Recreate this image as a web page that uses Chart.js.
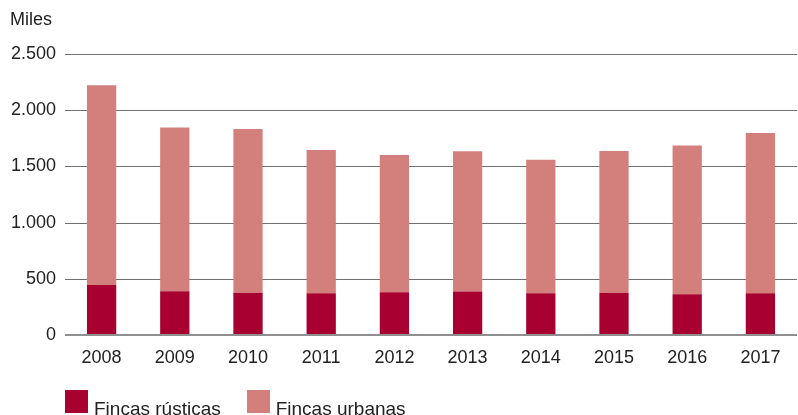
<!DOCTYPE html>
<html>
<head>
<meta charset="utf-8">
<script src="https://cdn.jsdelivr.net/npm/chart.js@4"></script>
<style>
  body { margin: 0; background: #fff; }
  #wrap { position: relative; width: 798px; height: 415px; overflow: hidden; font-family: "Liberation Sans", Arial, sans-serif; color: #222; }
  #unit { position: absolute; left: 10px; top: 9px; font-size: 18px; }
  #legend { position: absolute; left: 65px; top: 390px; display: flex; font-size: 19px; }
  .item { display: flex; align-items: flex-start; margin-right: 26px; }
  .box { width: 23px; height: 23px; margin-right: 6px; }
  .lbl { line-height: 23px; padding-top: 7px; }
</style>
</head>
<body>
<div id="wrap">
  <canvas id="myChart" width="798" height="415"></canvas>
  <div id="unit">Miles</div>
  <div id="legend"></div>
</div>
<script>
const years = ['2008','2009','2010','2011','2012','2013','2014','2015','2016','2017'];
const rusticas = [445, 389, 377, 371, 380, 386, 371, 377, 362, 371];
const urbanas = [1776, 1456, 1456, 1275, 1221, 1248, 1189, 1260, 1323, 1426];
const yTicks = [0, 500, 1000, 1500, 2000, 2500];

const colRustica = '#a80030';
const colUrbana = '#d3807c';

const fontSpec = { family: '"Liberation Sans", Arial, sans-serif', size: 18 };

const config = {
  type: 'bar',
  data: {
    labels: years,
    datasets: [{
      label: 'Fincas rústicas',
      data: rusticas,
      backgroundColor: colRustica,
      barPercentage: 0.4,
      categoryPercentage: 1
    },
    {
      label: 'Fincas urbanas',
      data: urbanas,
      backgroundColor: colUrbana,
      barPercentage: 0.4,
      categoryPercentage: 1
    }]
  },
  options: {
    responsive: false,
    animation: false,
    layout: { padding: { left: 10, right: 1, top: 54, bottom: 0 } },
    plugins: {
      legend: { display: false },
      tooltip: { enabled: false }
    },
    scales: {
      x: {
        stacked: true,
        grid: { display: false, drawTicks: false },
        border: { display: false },
        ticks: { color: '#222', font: fontSpec, padding: 12 },
        afterFit(scale) { scale.height = 80; }
      },
      y: {
        stacked: true,
        min: 0,
        max: 2500,
        afterBuildTicks(scale) { scale.ticks = yTicks.map(v => ({ value: v })); },
        grid: {
          color: c => c.tick && c.tick.value === 0 ? '#8f8f8f' : '#707070',
          lineWidth: c => c.tick && c.tick.value === 0 ? 2 : 1,
          drawTicks: false,
          z: 1
        },
        border: { display: false },
        ticks: {
          color: '#222',
          font: fontSpec,
          padding: 9,
          callback: v => v.toLocaleString('de-DE')
        },
        afterFit(scale) { scale.width = 55; }
      }
    }
  },
  plugins: [{
    // keep only the zero line above the bars, the others behind
    id: 'gridBehind',
    beforeDatasetsDraw(chart) {
      const y = chart.scales.y;
      const a = chart.chartArea;
      const c = chart.ctx;
      c.save();
      c.strokeStyle = '#707070';
      c.lineWidth = 1;
      yTicks.filter(v => v > 0).forEach(v => {
        const py = Math.round(y.getPixelForValue(v)) + 0.5;
        c.beginPath();
        c.moveTo(a.left, py);
        c.lineTo(a.right, py);
        c.stroke();
      });
      c.restore();
    }
  }]
};

// drawn by the plugin instead, only zero line via scale
config.options.scales.y.grid.color = c => c.tick && c.tick.value === 0 ? '#8f8f8f' : 'rgba(0,0,0,0)';

const ctx = document.getElementById('myChart').getContext('2d');
const myChart = new Chart(ctx, config);

// html legend
const legend = document.getElementById('legend');
config.data.datasets.forEach(ds => {
  const item = document.createElement('div');
  item.className = 'item';
  const box = document.createElement('div');
  box.className = 'box';
  box.style.background = ds.backgroundColor;
  const lbl = document.createElement('div');
  lbl.className = 'lbl';
  lbl.textContent = ds.label;
  item.appendChild(box);
  item.appendChild(lbl);
  legend.appendChild(item);
});
</script>
</body>
</html>
